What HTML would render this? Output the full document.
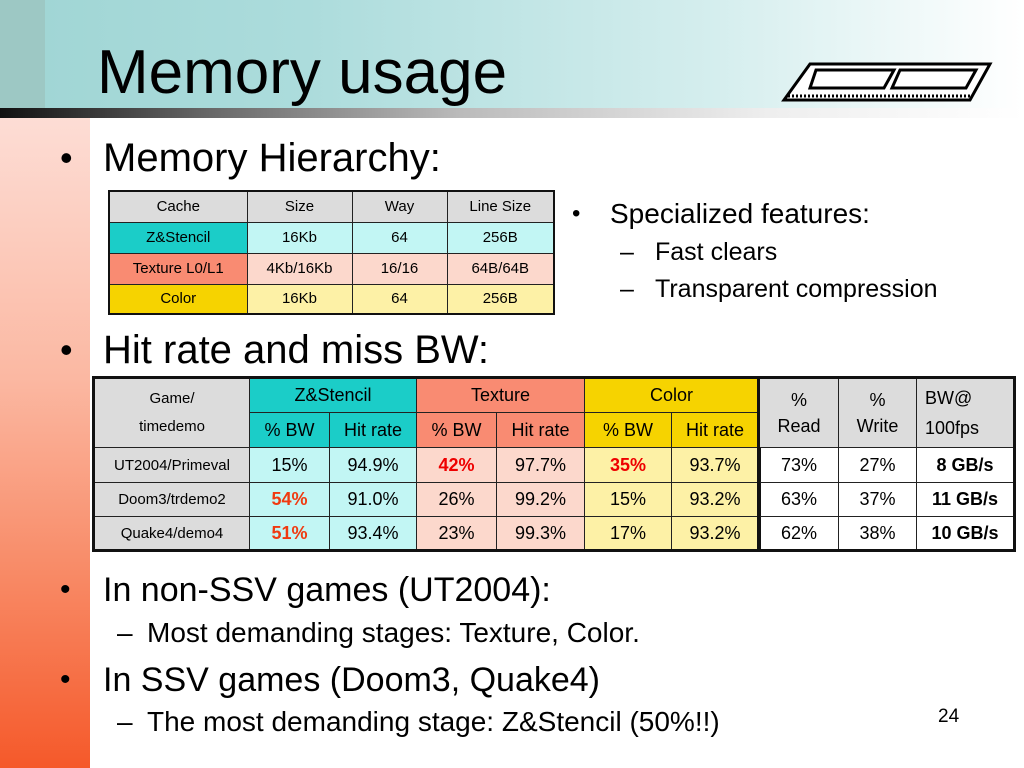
<!DOCTYPE html><html><head><style>
body{margin:0;width:1024px;height:768px;position:relative;overflow:hidden;background:#fff;font-family:"Liberation Sans",sans-serif}
.abs{position:absolute;white-space:nowrap}
table{border-collapse:collapse;position:absolute;table-layout:fixed}
td{border:1px solid #222;text-align:center;padding:0;overflow:hidden;white-space:nowrap}
</style></head><body>
<div class="abs" style="left:0;top:0;width:1024px;height:108px;background:linear-gradient(90deg,#9fd5d4 0%,#acdcdc 30%,#d5eeee 70%,#fff 100%)"></div>
<div class="abs" style="left:0;top:0;width:45px;height:108px;background:#9dc8c4"></div>
<div class="abs" style="left:0;top:108px;width:1024px;height:10px;background:linear-gradient(90deg,#111 0%,#666 20%,#bbb 45%,#eee 75%,#fff 100%)"></div>
<div class="abs" style="left:0;top:118px;width:90px;height:650px;background:linear-gradient(180deg,#fdddd5 0%,#fbb8a2 40%,#f88a66 70%,#f5592a 100%)"></div>
<div class="abs" style="left:97px;top:38px;font-size:62px;line-height:70px">Memory usage</div>
<svg class="abs" style="left:780px;top:58px" width="215" height="48" viewBox="0 0 215 48">
<polygon points="30,6 210,6 190,42 4,42" fill="#fff" stroke="#000" stroke-width="3"/>
<polygon points="36,12 114,12 104,30 30,30" fill="#fff" stroke="#000" stroke-width="3"/>
<polygon points="120,12 196,12 186,30 112,30" fill="#fff" stroke="#000" stroke-width="3"/>
<line x1="8" y1="38" x2="190" y2="38" stroke="#000" stroke-width="3" stroke-dasharray="2,2"/>
</svg>
<div class="abs" style="left:60px;top:138px;font-size:36px;line-height:40px">•</div>
<div class="abs" style="left:103px;top:137px;font-size:40px;line-height:42px">Memory Hierarchy:</div>
<table style="left:108px;top:190px;width:445px;font-size:15px;border:2px solid #111">
<colgroup><col style="width:138px"><col style="width:105px"><col style="width:95px"><col style="width:107px"></colgroup>
<tr style="height:31px;background:#dcdcdc"><td>Cache</td><td>Size</td><td>Way</td><td>Line Size</td></tr>
<tr style="height:31px;background:#c2f6f4"><td style="background:#1bcdc8">Z&amp;Stencil</td><td>16Kb</td><td>64</td><td>256B</td></tr>
<tr style="height:31px;background:#fcd8cc"><td style="background:#f98b72">Texture L0/L1</td><td>4Kb/16Kb</td><td>16/16</td><td>64B/64B</td></tr>
<tr style="height:30px;background:#fdf1a6"><td style="background:#f6d300">Color</td><td>16Kb</td><td>64</td><td>256B</td></tr>
</table>
<div class="abs" style="left:572px;top:198px;font-size:24px;line-height:32px">•</div>
<div class="abs" style="left:610px;top:198px;font-size:28px;line-height:32px">Specialized features:</div>
<div class="abs" style="left:620px;top:238px;font-size:25px;line-height:28px">–</div>
<div class="abs" style="left:655px;top:238px;font-size:25px;line-height:28px">Fast clears</div>
<div class="abs" style="left:620px;top:275px;font-size:25px;line-height:28px">–</div>
<div class="abs" style="left:655px;top:275px;font-size:25px;line-height:28px">Transparent compression</div>
<div class="abs" style="left:60px;top:330px;font-size:36px;line-height:40px">•</div>
<div class="abs" style="left:103px;top:329px;font-size:40px;line-height:42px">Hit rate and miss BW:</div>
<table style="left:92px;top:376px;width:666px;font-size:18px;border:3px solid #111">
<colgroup><col style="width:156px"><col style="width:80px"><col style="width:87px"><col style="width:80px"><col style="width:88px"><col style="width:87px"><col style="width:88px"></colgroup>
<tr style="height:35px"><td rowspan="2" style="background:#dcdcdc;font-size:15px;line-height:28px">Game/<br>timedemo</td><td colspan="2" style="background:#1bcdc8">Z&amp;Stencil</td><td colspan="2" style="background:#f98b72">Texture</td><td colspan="2" style="background:#f6d300">Color</td></tr>
<tr style="height:35px"><td style="background:#1bcdc8">% BW</td><td style="background:#1bcdc8">Hit rate</td><td style="background:#f98b72">% BW</td><td style="background:#f98b72">Hit rate</td><td style="background:#f6d300">% BW</td><td style="background:#f6d300">Hit rate</td></tr>
<tr style="height:35px"><td style="background:#dcdcdc;font-size:15px">UT2004/Primeval</td><td style="background:#c2f6f4">15%</td><td style="background:#c2f6f4">94.9%</td><td style="background:#fcd8cc;color:#e00;font-weight:bold">42%</td><td style="background:#fcd8cc">97.7%</td><td style="background:#fdf1a6;color:#e00;font-weight:bold">35%</td><td style="background:#fdf1a6">93.7%</td></tr>
<tr style="height:34px"><td style="background:#dcdcdc;font-size:15px">Doom3/trdemo2</td><td style="background:#c2f6f4;color:#f03a10;font-weight:bold">54%</td><td style="background:#c2f6f4">91.0%</td><td style="background:#fcd8cc">26%</td><td style="background:#fcd8cc">99.2%</td><td style="background:#fdf1a6">15%</td><td style="background:#fdf1a6">93.2%</td></tr>
<tr style="height:34px"><td style="background:#dcdcdc;font-size:15px">Quake4/demo4</td><td style="background:#c2f6f4;color:#f03a10;font-weight:bold">51%</td><td style="background:#c2f6f4">93.4%</td><td style="background:#fcd8cc">23%</td><td style="background:#fcd8cc">99.3%</td><td style="background:#fdf1a6">17%</td><td style="background:#fdf1a6">93.2%</td></tr>
</table>
<table style="left:757px;top:376px;width:256px;font-size:18px;border:3px solid #111">
<colgroup><col style="width:80px"><col style="width:78px"><col style="width:98px"></colgroup>
<tr style="height:70px;background:#dcdcdc"><td style="line-height:26px">%<br>Read</td><td style="line-height:26px">%<br>Write</td><td style="text-align:left;padding-left:8px;line-height:30px">BW@<br>100fps</td></tr>
<tr style="height:35px"><td>73%</td><td>27%</td><td style="font-weight:bold">8 GB/s</td></tr>
<tr style="height:34px"><td>63%</td><td>37%</td><td style="font-weight:bold">11 GB/s</td></tr>
<tr style="height:34px"><td>62%</td><td>38%</td><td style="font-weight:bold">10 GB/s</td></tr>
</table>
<div class="abs" style="left:60px;top:572px;font-size:30px;line-height:36px">•</div>
<div class="abs" style="left:103px;top:571px;font-size:34px;line-height:38px">In non-SSV games (UT2004):</div>
<div class="abs" style="left:117px;top:618px;font-size:28px;line-height:30px">–</div>
<div class="abs" style="left:147px;top:618px;font-size:28px;line-height:30px">Most demanding stages: Texture, Color.</div>
<div class="abs" style="left:60px;top:662px;font-size:30px;line-height:36px">•</div>
<div class="abs" style="left:103px;top:661px;font-size:34px;line-height:38px">In SSV games (Doom3, Quake4)</div>
<div class="abs" style="left:117px;top:707px;font-size:28px;line-height:30px">–</div>
<div class="abs" style="left:147px;top:707px;font-size:28px;line-height:30px">The most demanding stage: Z&amp;Stencil (50%!!)</div>
<div class="abs" style="left:938px;top:706px;font-size:19px">24</div>
</body></html>
